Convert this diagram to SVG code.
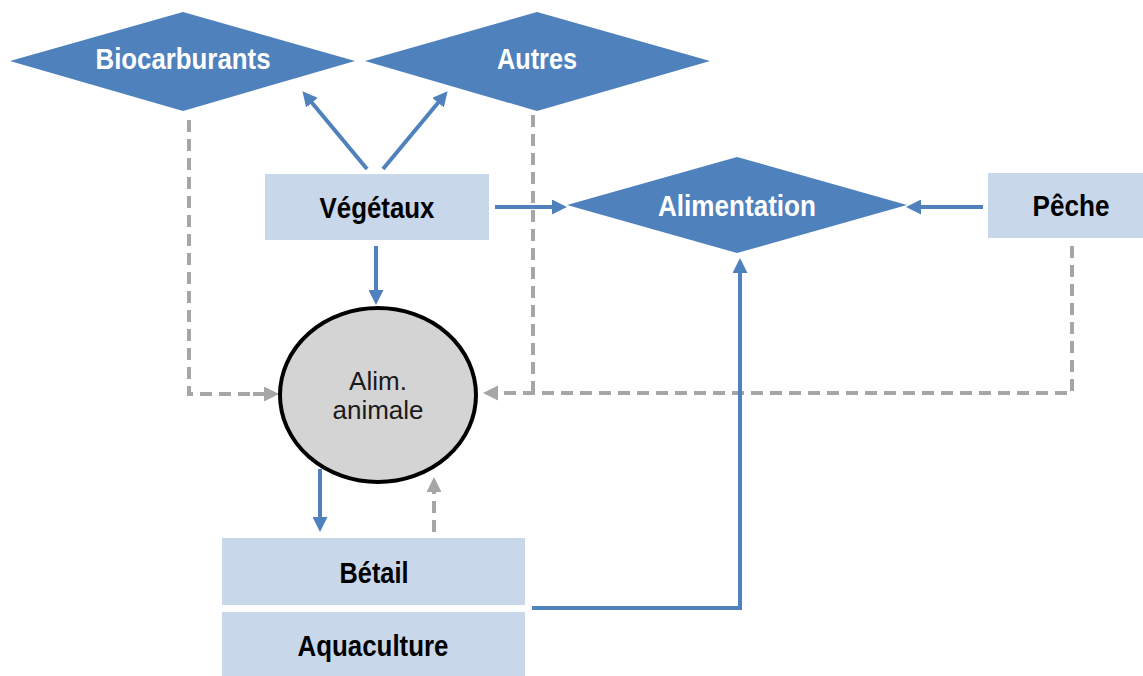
<svg xmlns="http://www.w3.org/2000/svg" width="1143" height="676" viewBox="0 0 1143 676">
<style>
.dia{fill:#4F81BD;}
.box{fill:#C8D7EA;}
.wt{font-family:"Liberation Sans",Arial,sans-serif;font-weight:bold;font-size:30px;fill:#FFFFFF;text-anchor:middle;}
.bt{font-family:"Liberation Sans",Arial,sans-serif;font-weight:bold;font-size:30px;fill:#000000;text-anchor:middle;}
.rt{font-family:"Liberation Sans",Arial,sans-serif;font-size:26px;fill:#1A1A1A;text-anchor:middle;}
.blue{fill:none;stroke:#4F81BD;stroke-width:4;}
.gray{fill:none;stroke:#A6A6A6;stroke-width:4;stroke-dasharray:12 7;}
</style>
<defs>
<marker id="ab" markerUnits="userSpaceOnUse" markerWidth="15" markerHeight="15" refX="2" refY="7.5" orient="auto" viewBox="0 0 15 15">
<path d="M0,0 L15,7.5 L0,15 z" fill="#4F81BD"/>
</marker>
<marker id="ag" markerUnits="userSpaceOnUse" markerWidth="15" markerHeight="15" refX="2" refY="7.5" orient="auto" viewBox="0 0 15 15">
<path d="M0,0 L15,7.5 L0,15 z" fill="#A6A6A6"/>
</marker>
</defs>
<rect width="1143" height="676" fill="#FFFFFF"/>
<g id="connectors">
<path class="gray" d="M189 120 V394 H266"/>
<path class="gray" d="M533 115 V393"/>
<path class="gray" d="M1072 246 V393 H496" marker-end="url(#ag)"/>
<path class="gray" d="M434 532 V490" marker-end="url(#ag)"/>
<path class="gray" d="M253 394 H266" marker-end="url(#ag)" stroke-dasharray="none"/>
<path class="blue" d="M367 169 L310.7 101.2" marker-end="url(#ab)"/>
<path class="blue" d="M383 169 L439.3 101.2" marker-end="url(#ab)"/>
<path class="blue" d="M495 207 H554" marker-end="url(#ab)"/>
<path class="blue" d="M983 207 H919" marker-end="url(#ab)"/>
<path class="blue" d="M376 246 V292" marker-end="url(#ab)"/>
<path class="blue" d="M320 469 V519" marker-end="url(#ab)"/>
<path class="blue" d="M532 608 H740 V271" marker-end="url(#ab)"/>
</g>
<g id="biocarburants">
<polygon class="dia" points="10,61 183,12 355,61 183,111"/>
<text class="wt" x="183" y="69" textLength="175" lengthAdjust="spacingAndGlyphs">Biocarburants</text>
</g>
<g id="autres">
<polygon class="dia" points="365,61 537,12 710,61 537,111"/>
<text class="wt" x="537" y="69" textLength="80" lengthAdjust="spacingAndGlyphs">Autres</text>
</g>
<g id="vegetaux">
<rect class="box" x="265" y="174" width="224" height="66"/>
<text class="bt" x="377" y="218" textLength="115" lengthAdjust="spacingAndGlyphs">Végétaux</text>
</g>
<g id="alimentation">
<polygon class="dia" points="567,205 737,157 907,205 737,253"/>
<text class="wt" x="737" y="216" textLength="158" lengthAdjust="spacingAndGlyphs">Alimentation</text>
</g>
<g id="peche">
<rect class="box" x="988" y="173" width="155" height="65"/>
<text class="bt" x="1071" y="216" textLength="77" lengthAdjust="spacingAndGlyphs">Pêche</text>
</g>
<g id="alim-animale">
<ellipse cx="378" cy="395" rx="98" ry="87" fill="#D4D4D4" stroke="#000000" stroke-width="4"/>
<text class="rt" x="378" y="390">Alim.</text>
<text class="rt" x="378" y="419">animale</text>
</g>
<g id="betail">
<rect class="box" x="222" y="538" width="303" height="67"/>
<text class="bt" x="374" y="583" textLength="69" lengthAdjust="spacingAndGlyphs">Bétail</text>
</g>
<g id="aquaculture">
<rect class="box" x="222" y="612" width="303" height="64"/>
<text class="bt" x="373" y="656" textLength="151" lengthAdjust="spacingAndGlyphs">Aquaculture</text>
</g>
</svg>
